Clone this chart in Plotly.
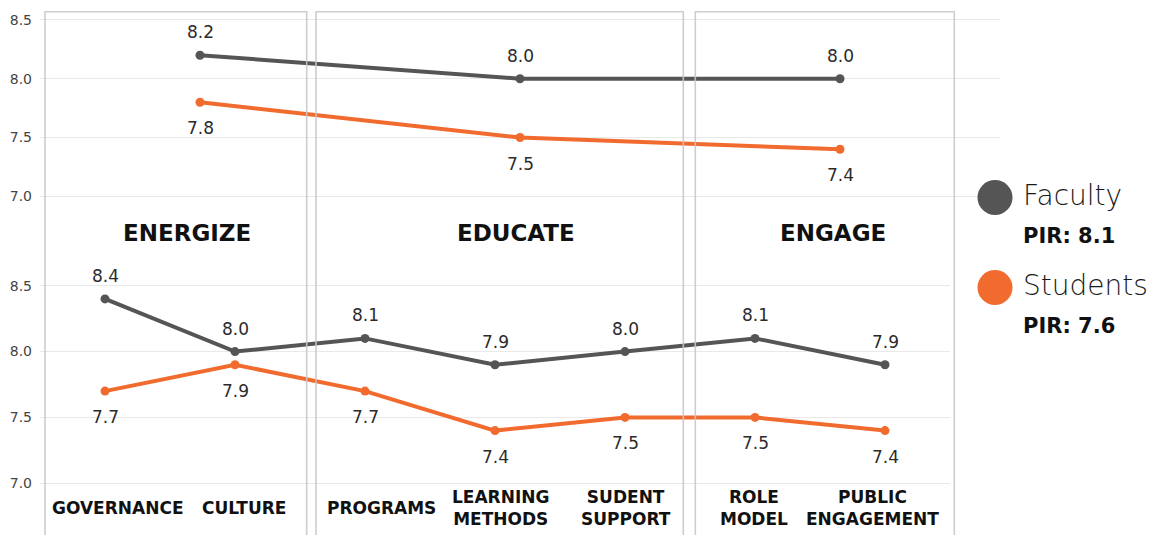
import plotly.graph_objects as go

W, H = 1161, 535

# Pillar averages (upper panel)
pillars = ["ENERGIZE", "EDUCATE", "ENGAGE"]
faculty_pillar = [8.2, 8.0, 8.0]
students_pillar = [7.8, 7.5, 7.4]

# Dimension scores (lower panel)
dimensions = ["GOVERNANCE", "CULTURE", "PROGRAMS", "LEARNING<br>METHODS",
              "SUDENT<br>SUPPORT", "ROLE<br>MODEL", "PUBLIC<br>ENGAGEMENT"]
faculty_dim = [8.4, 8.0, 8.1, 7.9, 8.0, 8.1, 7.9]
students_dim = [7.7, 7.9, 7.7, 7.4, 7.5, 7.5, 7.4]

groups = ["Faculty", "Students"]
pir = [8.1, 7.6]

y_ticks = [7.0, 7.5, 8.0, 8.5]

# styling
GREY = "#555555"
ORANGE = "#F26B2E"
FONT = "DejaVu Sans"
colors = [GREY, ORANGE]


def fx(p):
    return p / W


def fy(p):
    return 1 - p / H


fig = go.Figure()

series_top = [faculty_pillar, students_pillar]
series_bot = [faculty_dim, students_dim]
for name, col, ytop, ybot in zip(groups, colors, series_top, series_bot):
    fig.add_trace(go.Scatter(
        x=list(range(len(pillars))), y=ytop, mode="lines+markers", name=name,
        line=dict(color=col, width=4), marker=dict(color=col, size=9),
        xaxis="x", yaxis="y", showlegend=False, hoverinfo="skip"))
    fig.add_trace(go.Scatter(
        x=list(range(len(dimensions))), y=ybot, mode="lines+markers", name=name,
        line=dict(color=col, width=4), marker=dict(color=col, size=9),
        xaxis="x2", yaxis="y2", showlegend=False, hoverinfo="skip"))

annotations = []
label_font = dict(family=FONT, size=17, color="#2b2b2b")

# value labels: faculty above the point, students below
for (xref, yref, vals_f, vals_s) in [("x", "y", faculty_pillar, students_pillar),
                                     ("x2", "y2", faculty_dim, students_dim)]:
    for i, v in enumerate(vals_f):
        annotations.append(dict(x=i, y=v, xref=xref, yref=yref, text=f"{v:.1f}",
                                showarrow=False, yshift=23, font=label_font))
    for i, v in enumerate(vals_s):
        annotations.append(dict(x=i, y=v, xref=xref, yref=yref, text=f"{v:.1f}",
                                showarrow=False, yshift=-26, font=label_font))

# pillar headings
pillar_shift = [-13, -4, -7]
for i, (p, s) in enumerate(zip(pillars, pillar_shift)):
    annotations.append(dict(x=i, y=fy(232.5), xref="x", yref="paper", text=f"<b>{p}</b>",
                            showarrow=False, xshift=s,
                            font=dict(family=FONT, size=23, color="#111111")))

# dimension labels
dim_shift = [13, 9, 16, 5, 1, -1, -13]
for i, (d, s) in enumerate(zip(dimensions, dim_shift)):
    annotations.append(dict(x=i, y=fy(508), xref="x2", yref="paper", text=f"<b>{d}</b>",
                            showarrow=False, xshift=s, yanchor="middle",
                            font=dict(family=FONT, size=17, color="#111111")))

# custom legend
shapes = []
legend_rows = [197.5, 287.5]
for name, col, val, yc in zip(groups, colors, pir, legend_rows):
    shapes.append(dict(type="circle", xref="paper", yref="paper",
                       x0=fx(977.5), x1=fx(1012.5), y0=fy(yc + 17.5), y1=fy(yc - 17.5),
                       fillcolor=col, line=dict(width=0)))
    annotations.append(dict(x=fx(1021), y=fy(yc - 2), xref="paper", yref="paper",
                            text=name, showarrow=False, xanchor="left", yanchor="middle",
                            font=dict(family=FONT, size=28, color="#1a1a1a", weight=300)))
    annotations.append(dict(x=fx(1021), y=fy(yc + 38.5), xref="paper", yref="paper",
                            text=f"<b>PIR: {val}</b>", showarrow=False, xanchor="left",
                            yanchor="middle",
                            font=dict(family=FONT, size=21, color="#111111")))

# group frames
for x0, x1 in [(45, 306.7), (316, 683.3), (695.3, 954.3)]:
    shapes.append(dict(type="rect", xref="paper", yref="paper",
                       x0=fx(x0), x1=fx(x1), y0=-0.05, y1=fy(11.7),
                       line=dict(color="rgba(200,200,200,0.9)", width=1.6),
                       fillcolor="rgba(0,0,0,0)", layer="above"))

axis_common = dict(showline=False, zeroline=False, ticks="")
yaxis_common = dict(tickvals=y_ticks, ticktext=[f"{t:.1f}" for t in y_ticks],
                    showgrid=True, gridcolor="#e9e9e9", gridwidth=1,
                    tickfont=dict(family=FONT, size=14, color="#444444"),
                    ticklabelstandoff=7, fixedrange=True, **axis_common)

fig.update_layout(
    width=W, height=H,
    margin=dict(l=0, r=0, t=0, b=0),
    paper_bgcolor="white", plot_bgcolor="white",
    xaxis=dict(domain=[fx(40), fx(1000)], range=[-0.5, 2.5], anchor="y",
               showticklabels=False, showgrid=False, **axis_common),
    yaxis=dict(domain=[fy(250), 1], range=[6.543, 8.670], anchor="x", **yaxis_common),
    xaxis2=dict(domain=[fx(40), fx(950)], range=[-0.5, 6.5], anchor="y2",
                showticklabels=False, showgrid=False, **axis_common),
    yaxis2=dict(domain=[0, fy(262)], range=[6.6075, 8.680], anchor="x2", **yaxis_common),
    annotations=annotations,
    shapes=shapes,
    showlegend=False,
)

fig.write_html("out.html")
